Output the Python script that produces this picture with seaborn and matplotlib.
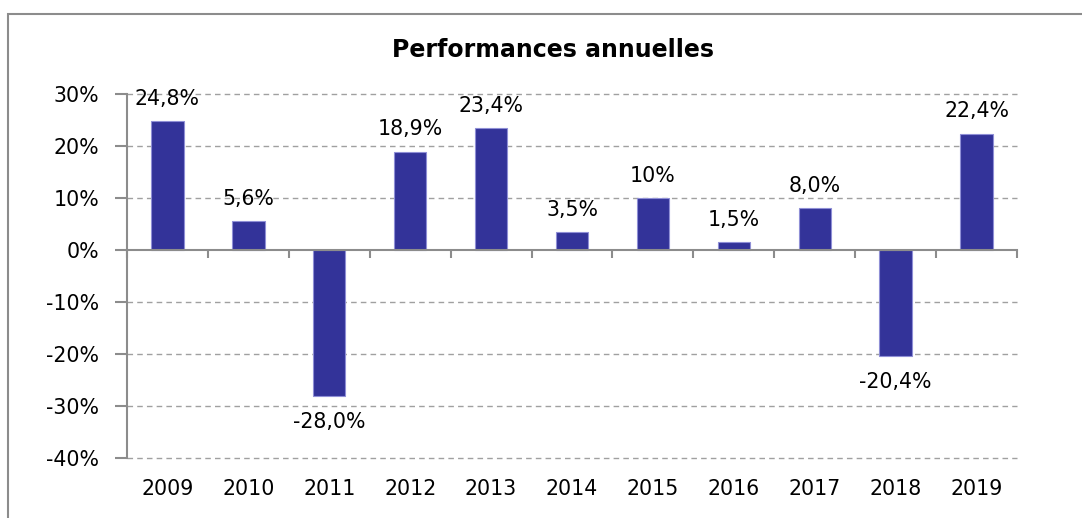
import matplotlib
matplotlib.use("Agg")
import matplotlib.pyplot as plt
import matplotlib.transforms as mtransforms
from matplotlib.patches import Rectangle
import seaborn as sns
import pandas as pd

years = ["2009", "2010", "2011", "2012", "2013", "2014", "2015", "2016", "2017", "2018", "2019"]
values = [24.8, 5.6, -28.0, 18.9, 23.4, 3.5, 10.0, 1.5, 8.0, -20.4, 22.4]
value_labels = ["24,8%", "5,6%", "-28,0%", "18,9%", "23,4%", "3,5%", "10%", "1,5%", "8,0%", "-20,4%", "22,4%"]
yticks = [30, 20, 10, 0, -10, -20, -30, -40]
ytick_labels = ["30%", "20%", "10%", "0%", "-10%", "-20%", "-30%", "-40%"]
title = "Performances annuelles"

sns.set_theme(style="white")
plt.rcParams["font.family"] = ["DejaVu Sans"]

df = pd.DataFrame({"year": years, "value": values})

fig = plt.figure(figsize=(10.82, 5.18), dpi=100)
ax = fig.add_axes([127/1082, 1-458/518, (1017-127)/1082, (458-94)/518])

sns.barplot(data=df, x="year", y="value", color="#333399", width=0.4,
            edgecolor="#8f8fd6", linewidth=0.8, saturation=1, ax=ax, zorder=3)

FS = 14.8
ax.set_ylim(-40, 30)
ax.set_xlim(-0.5, len(years) - 0.5)
ax.set_yticks(yticks)
ax.set_yticklabels(ytick_labels, fontsize=FS, color="black")
ax.tick_params(axis="y", which="major", direction="out", length=9, width=1.5,
               color="#8c8c8c", pad=11, left=True)

# grid
for t in yticks:
    if t != 0:
        ax.axhline(t, color="#a0a0a0", linestyle=(0, (4, 3)), linewidth=1.0, zorder=1,
                   clip_on=False)

# spines
for s in ["top", "right"]:
    ax.spines[s].set_visible(False)
ax.spines["left"].set_color("#8c8c8c")
ax.spines["left"].set_linewidth(1.5)
ax.spines["bottom"].set_position(("data", 0))
ax.spines["bottom"].set_color("#8c8c8c")
ax.spines["bottom"].set_linewidth(1.5)
ax.spines["bottom"].set_zorder(4)

# x ticks: boundary tick marks at zero line, labels at bottom
ax.set_xticks([i - 0.5 for i in range(len(years) + 1)])
ax.set_xticklabels([])
ax.tick_params(axis="x", which="major", direction="out", length=6, width=1.5,
               color="#8c8c8c", bottom=True)
trans = mtransforms.blended_transform_factory(ax.transData, ax.transAxes)
for i, y in enumerate(years):
    ax.text(i, -0.085, y, transform=trans, ha="center", va="center", fontsize=FS, color="black")

ax.set_xlabel("")
ax.set_ylabel("")

# value labels
for i, (v, lab) in enumerate(zip(values, value_labels)):
    off = 16 if v >= 0 else -19
    ax.annotate(lab, xy=(i, v), xytext=(0, off), textcoords="offset points",
                ha="center", va="center", fontsize=FS, color="black", zorder=5)

fig.text(553/1082, 1-50/518, title, ha="center", va="center", fontsize=17,
         fontweight="bold", color="black")

# outer chart border
fig.patches.append(Rectangle((8/1082, -0.1), 1.2, 1-14/518+0.1, transform=fig.transFigure,
                             fill=False, edgecolor="#8c8c8c", linewidth=1.5, clip_on=False))

fig.savefig("out.png", dpi=100, facecolor="white")
